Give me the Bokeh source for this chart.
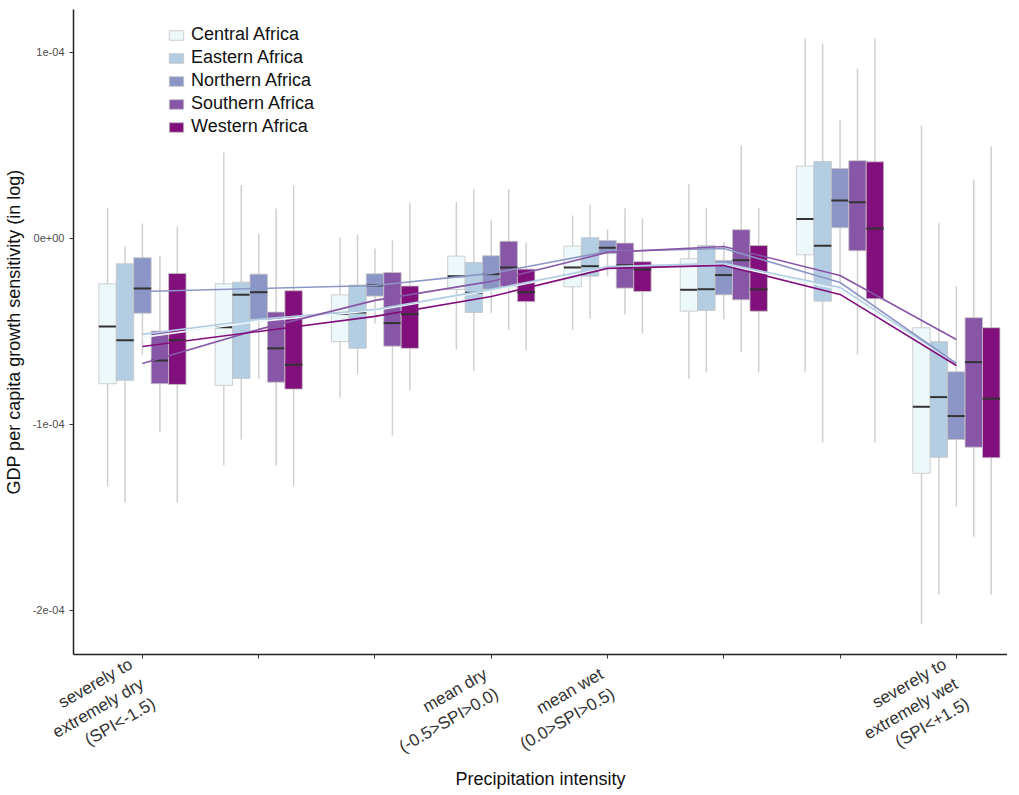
from math import pi
from bokeh.plotting import figure
from bokeh.models import Range1d, FixedTicker, Legend, LegendItem
from bokeh.embed import file_html
from bokeh.resources import INLINE

SCALE = 1e-5  # values below are in units of 1e-5

categories = [1, 2, 3, 4, 5, 6, 7, 8]
category_labels = ["severely to\nextremely dry\n(SPI<-1.5)", "", "",
                   "mean dry\n(-0.5>SPI>0.0)", "mean wet\n(0.0>SPI>0.5)", "", "",
                   "severely to\nextremely wet\n(SPI<+1.5)"]
regions = ["Central Africa", "Eastern Africa", "Northern Africa", "Southern Africa", "Western Africa"]
colors = ["#edf8fb", "#b3cde3", "#8c96c6", "#8856a7", "#810f7c"]

y_ticks = [-2e-4, -1e-4, 0.0, 1e-4]
y_tick_labels = ["-2e-04", "-1e-04", "0e+00", "1e-04"]

central_low = [-13.33, -12.19, -8.56, -5.98, -4.93, -7.54, -7.17, -20.75]
central_q1 = [-7.81, -7.90, -5.55, -2.74, -2.60, -3.91, -0.88, -12.63]
central_med = [-4.73, -4.78, -4.05, -2.03, -1.56, -2.76, 1.04, -9.05]
central_q3 = [-2.44, -2.44, -3.03, -0.95, -0.41, -1.09, 3.89, -4.80]
central_high = [1.65, 4.62, 0.04, 1.97, 1.24, 2.92, 10.74, 6.06]

eastern_low = [-14.21, -10.81, -7.31, -7.13, -4.32, -7.19, -10.97, -19.14]
eastern_q1 = [-7.63, -7.53, -5.91, -3.98, -2.03, -3.87, -3.37, -11.77]
eastern_med = [-5.47, -3.03, -3.98, -2.92, -1.49, -2.73, -0.39, -8.53]
eastern_q3 = [-1.36, -2.35, -2.51, -1.29, 0.04, -0.38, 4.14, -5.55]
eastern_high = [-0.43, 2.87, 0.20, 2.65, 1.81, 1.65, 10.45, 0.82]

northern_low = [-6.24, -7.53, -4.57, -4.02, -2.04, -4.35, -2.37, -14.42]
northern_q1 = [-4.02, -4.35, -3.10, -2.73, -0.81, -3.03, 0.58, -10.81]
northern_med = [-2.69, -2.89, -2.53, -1.92, -0.50, -1.97, 2.04, -9.55]
northern_q3 = [-1.04, -1.92, -1.90, -0.93, -0.11, -1.18, 3.76, -7.17]
northern_high = [0.81, 0.25, -0.54, 0.97, 0.48, -0.18, 6.36, -2.56]

southern_low = [-10.41, -12.19, -10.59, -4.91, -4.09, -6.11, -6.24, -16.04]
southern_q1 = [-7.81, -7.73, -5.79, -2.60, -2.67, -3.30, -0.66, -11.22]
southern_med = [-6.56, -5.91, -4.55, -1.56, -1.44, -1.17, 1.95, -6.65]
southern_q3 = [-4.98, -3.96, -1.83, -0.15, -0.25, 0.47, 4.18, -4.26]
southern_high = [-0.93, 1.61, -0.11, 2.65, 1.63, 5.00, 9.12, 3.16]

western_low = [-14.21, -13.32, -8.16, -6.01, -5.12, -7.19, -10.97, -19.14]
western_q1 = [-7.85, -8.10, -5.91, -3.40, -2.85, -3.91, -3.24, -11.79]
western_med = [-5.47, -6.79, -4.07, -2.89, -1.67, -2.74, 0.54, -8.62]
western_q3 = [-1.88, -2.81, -2.56, -1.65, -1.25, -0.38, 4.12, -4.80]
western_high = [0.63, 2.85, 1.92, -0.22, 1.08, 1.65, 10.74, 4.93]

central_trend = [-5.32, -4.46, -3.87, -2.80, -1.56, -1.40, -2.74, -6.77]
eastern_trend = [-5.16, -4.35, -3.82, -2.74, -1.51, -1.34, -2.63, -6.72]
northern_trend = [-2.85, -2.69, -2.53, -1.88, -0.70, -0.54, -2.37, -6.72]
southern_trend = [-6.72, -4.89, -3.33, -2.31, -0.75, -0.43, -1.99, -5.43]
western_trend = [-5.81, -5.00, -4.19, -3.12, -1.61, -1.45, -3.01, -6.83]

stats = [
    (central_low, central_q1, central_med, central_q3, central_high, central_trend),
    (eastern_low, eastern_q1, eastern_med, eastern_q3, eastern_high, eastern_trend),
    (northern_low, northern_q1, northern_med, northern_q3, northern_high, northern_trend),
    (southern_low, southern_q1, southern_med, southern_q3, southern_high, southern_trend),
    (western_low, western_q1, western_med, western_q3, western_high, western_trend),
]

FONT = "Liberation Sans"
BOX_W = 0.15
Y0, Y1 = -22.37e-5, 12.31e-5

p = figure(frame_width=934, frame_height=645, output_backend="svg", toolbar_location=None,
           x_range=Range1d(0.407, 8.44), y_range=Range1d(Y0, Y1),
           min_border_left=73, min_border_top=9, min_border_right=0, min_border_bottom=10)
p.outline_line_color = None
p.xgrid.grid_line_color = None
p.ygrid.grid_line_color = None
p.background_fill_color = "white"
p.border_fill_color = "white"

def sc(a):
    return [v * SCALE for v in a]

box_renderers = []
for i, (lo, q1, med, q3, hi, tr) in enumerate(stats):
    xs = [c + (i - 2) * BOX_W for c in categories]
    p.segment(x0=xs, y0=sc(lo), x1=xs, y1=sc(hi), line_color="#cfcfcf", line_width=1.5)

for i, (lo, q1, med, q3, hi, tr) in enumerate(stats):
    xs = [c + (i - 2) * BOX_W for c in categories]
    r = p.vbar(x=xs, width=BOX_W, bottom=sc(q1), top=sc(q3), fill_color=colors[i],
               line_color="#c4c4c4", line_width=0.8)
    box_renderers.append(r)
    p.segment(x0=[x - BOX_W / 2 for x in xs], y0=sc(med), x1=[x + BOX_W / 2 for x in xs],
              y1=sc(med), line_color="#333333", line_width=2)

for i, (lo, q1, med, q3, hi, tr) in enumerate(stats):
    p.line(x=categories, y=sc(tr), line_color=colors[i], line_width=1.6)

p.xaxis.ticker = FixedTicker(ticks=categories)
p.xaxis.major_label_overrides = {c: lab for c, lab in zip(categories, category_labels)}
p.xaxis.major_label_orientation = pi / 6
p.xaxis.major_label_standoff = 24
p.xaxis.minor_tick_line_color = None
p.xaxis.major_tick_in = 0
p.xaxis.major_tick_out = 4
p.xaxis.axis_line_width = 1.5
p.xaxis.axis_line_color = "#222222"
p.xaxis.major_tick_line_color = "#333333"
p.xaxis.major_label_text_font = FONT
p.xaxis.major_label_text_font_size = "17px"
p.xaxis.major_label_text_color = "#333333"
p.xaxis.axis_label = "Precipitation intensity"
p.xaxis.axis_label_text_font = FONT
p.xaxis.axis_label_text_font_size = "18px"
p.xaxis.axis_label_text_font_style = "normal"
p.xaxis.axis_label_text_color = "#111111"
p.xaxis.axis_label_standoff = -25

p.yaxis.ticker = FixedTicker(ticks=y_ticks)
p.yaxis.major_label_overrides = {t: lab for t, lab in zip(y_ticks, y_tick_labels)}
p.yaxis.minor_tick_line_color = None
p.yaxis.major_tick_in = 0
p.yaxis.major_tick_out = 4
p.yaxis.axis_line_width = 1.5
p.yaxis.axis_line_color = "#222222"
p.yaxis.major_tick_line_color = "#333333"
p.yaxis.major_label_text_font = FONT
p.yaxis.major_label_text_font_size = "11px"
p.yaxis.major_label_text_color = "#4d4d4d"
p.yaxis.axis_label = "GDP per capita growth sensitivity (in log)"
p.yaxis.axis_label_text_font = FONT
p.yaxis.axis_label_text_font_size = "18px"
p.yaxis.axis_label_text_font_style = "normal"
p.yaxis.axis_label_text_color = "#111111"
p.yaxis.axis_label_standoff = 6

legend = Legend(items=[LegendItem(label=regions[i], renderers=[box_renderers[i]]) for i in range(5)],
                location=(94, 517), orientation="vertical")
legend.label_text_font = FONT
legend.label_text_font_size = "18px"
legend.label_text_color = "#111111"
legend.glyph_width = 18
legend.glyph_height = 12
legend.label_height = 20
legend.spacing = 2
legend.padding = 2
legend.label_standoff = 6
legend.border_line_color = None
legend.background_fill_alpha = 0
p.add_layout(legend)

open("out.html", "w").write(file_html(p, INLINE))
